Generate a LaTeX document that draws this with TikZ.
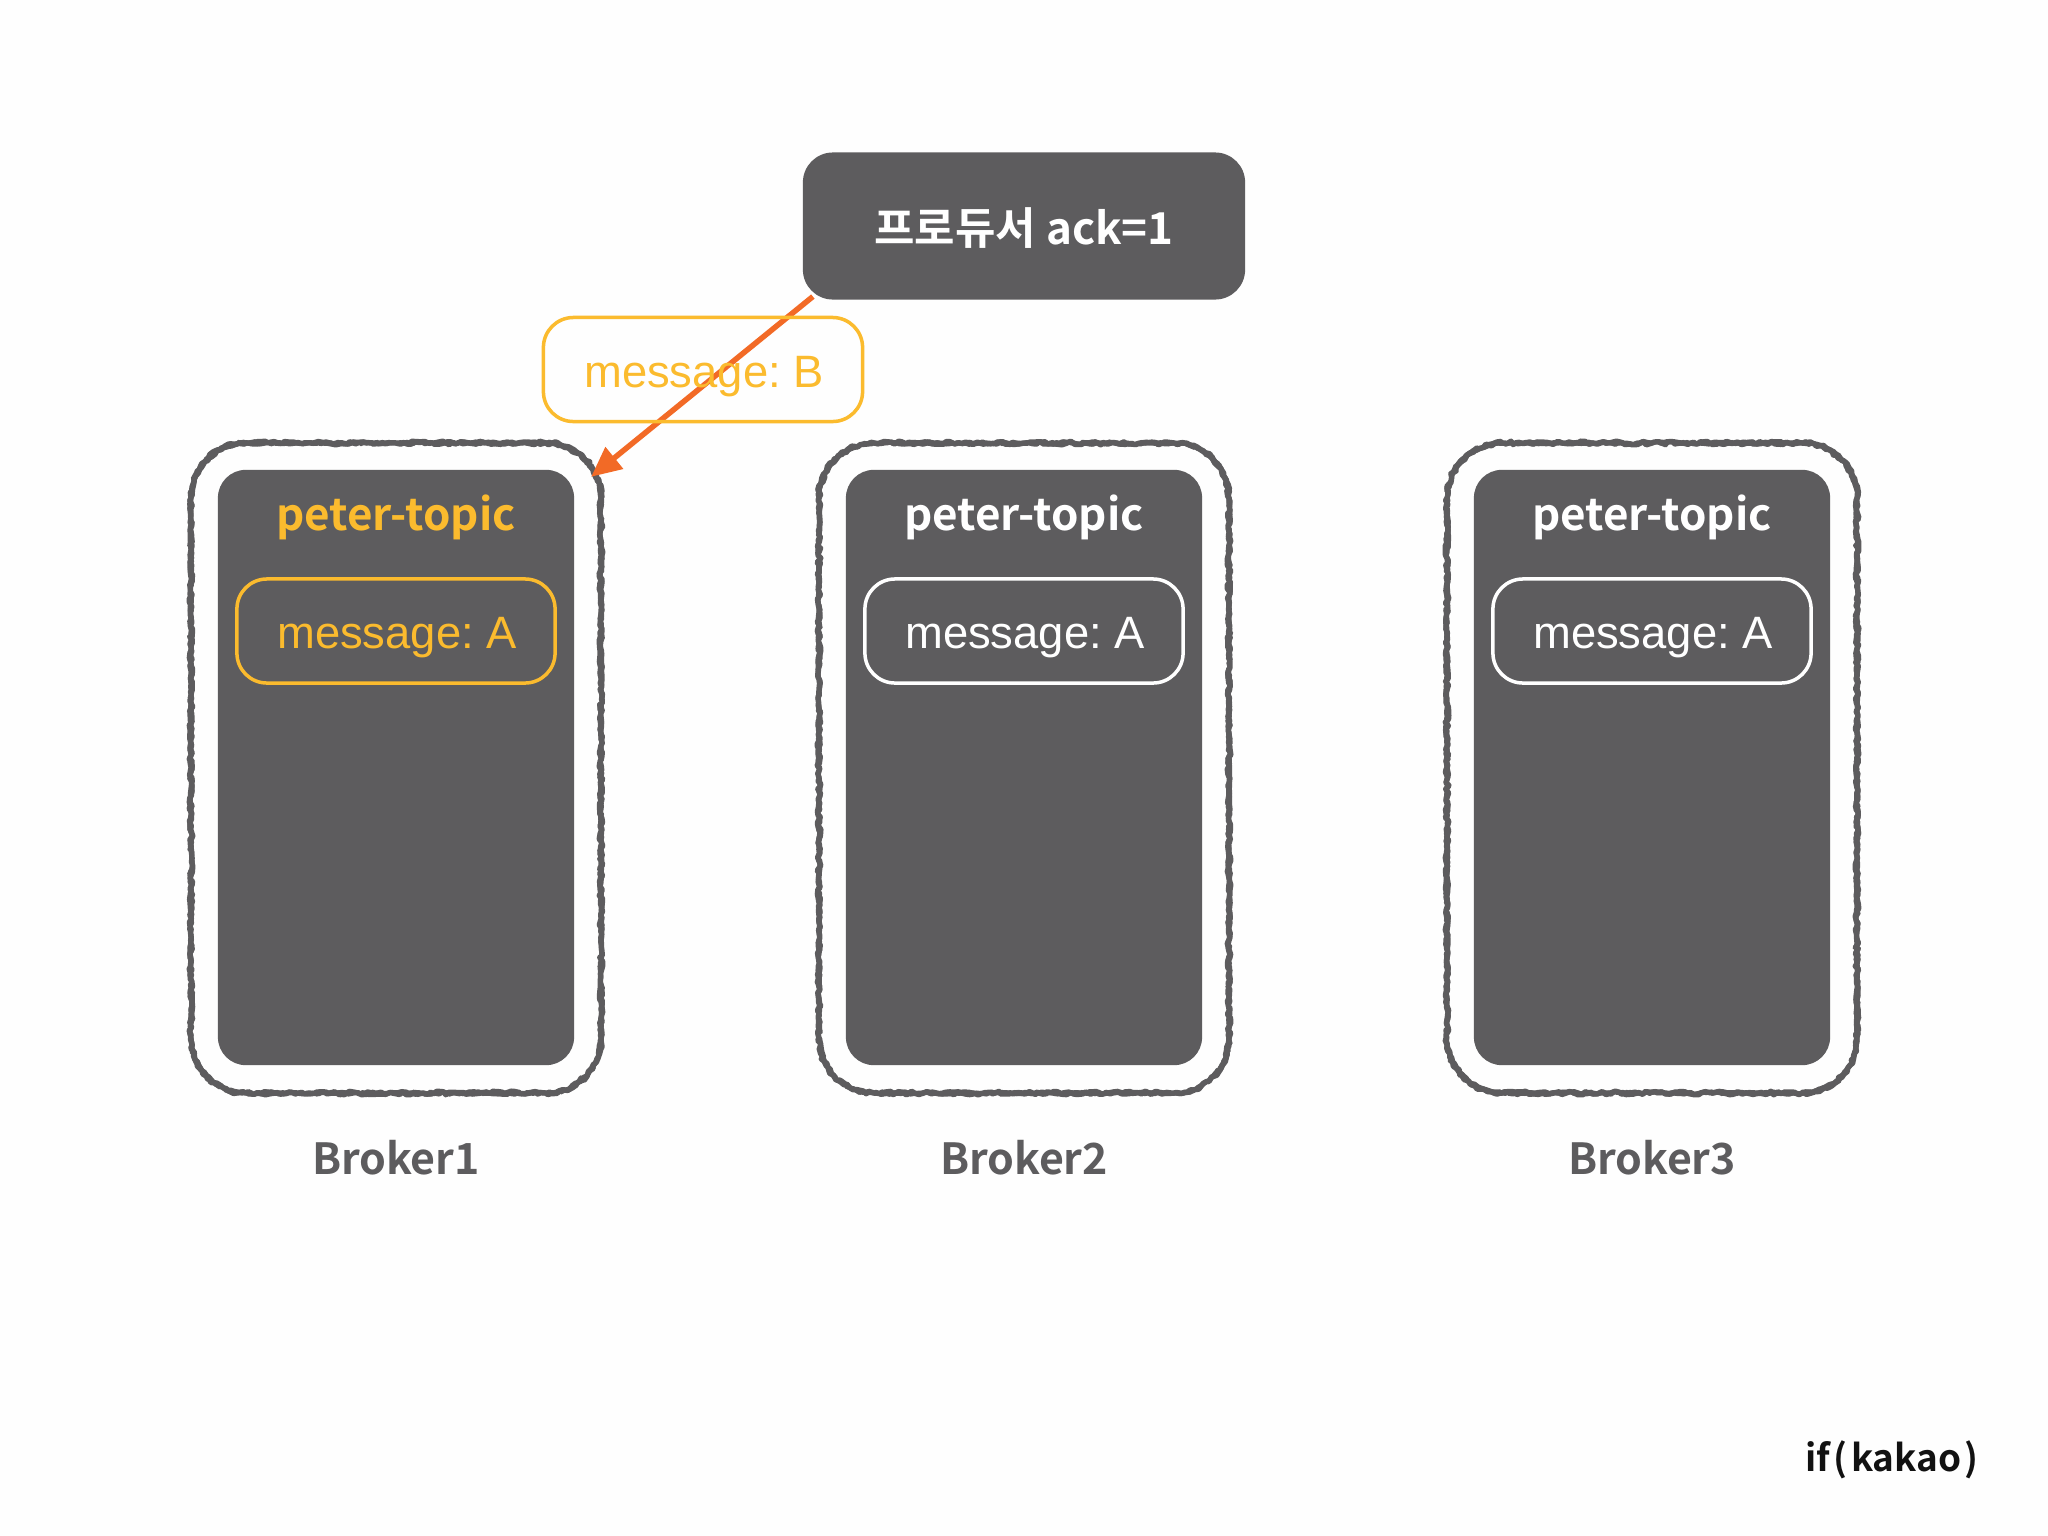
\documentclass[tikz,border=0pt]{standalone}
\usepackage{fontspec}
\usetikzlibrary{calc,arrows.meta,decorations.pathmorphing}
\setmainfont{Liberation Sans}
\newfontfamily\cjkbold{Noto Sans CJK KR Bold}
\frenchspacing
\definecolor{darkbox}{HTML}{5D5C5E}
\definecolor{yellowline}{HTML}{FBBB2E}
\definecolor{orangeline}{HTML}{F26A26}
\definecolor{paper}{HTML}{FEFEFE}
\definecolor{kakaoblack}{HTML}{111111}
\tikzset{
  x=0.01cm,y=-0.01cm,
  allbox/.style={rectangle,inner sep=0pt,outer sep=0pt},
  sketchbox/.style={allbox,minimum width=4.1cm,minimum height=6.5cm},
  roughline/.style={draw=darkbox,line width=#1,line join=round,line cap=round,
    decoration={random steps,segment length=0.04cm,amplitude=0.018cm},decorate},
  darkpanel/.style={allbox,fill=darkbox,minimum width=3.56cm,minimum height=5.95cm,rounded corners=0.28cm},
  msgbox/.style={allbox,draw=#1,line width=0.035cm,minimum width=3.18cm,minimum height=1.04cm,rounded corners=0.3cm},
  msgtext/.style={allbox,text=#1,font=\fontsize{12.9pt}{15pt}\selectfont},
  titletext/.style={allbox,text=#1,font=\cjkbold\fontsize{12.5pt}{16pt}\selectfont},
  brokertext/.style={allbox,text=darkbox,font=\cjkbold\fontsize{12.2pt}{16pt}\selectfont},
  ackarrow/.style={draw=orangeline,line width=0.055cm,-{Triangle[length=0.3cm,width=0.27cm]}},
}
\begin{document}
\begin{tikzpicture}
\useasboundingbox (0,0) rectangle (2048,1536);
\fill[paper] (0,0) rectangle (2048,1536);
\pgfmathsetseed{42}
\node[allbox,fill=darkbox,minimum width=4.42cm,minimum height=1.47cm,rounded corners=0.3cm] (prod) at (1024,226) {};
\node[allbox,text=white,font=\cjkbold\fontsize{12.5pt}{16pt}\selectfont] (prodtext) at (1024,228) {프로듀서 ack=1};
\foreach \i/\cx/\col in {1/396/yellowline,2/1024/white,3/1652/white}{
  \node[sketchbox] (outer\i) at (\cx,768) {};
  \begin{scope}[shift={(outer\i.center)}]
  \foreach \w in {0.055cm,0.045cm,0.04cm,0.03cm}{
    \path[roughline=\w] (0,-325) -- (150,-325) .. controls (180,-325) and (205,-300) .. (205,-270)
      -- (205,270) .. controls (205,300) and (180,325) .. (150,325)
      -- (-150,325) .. controls (-180,325) and (-205,300) .. (-205,270)
      -- (-205,-270) .. controls (-205,-300) and (-180,-325) .. (-150,-325) -- (0,-325);
  }
  \end{scope}
  \node[darkpanel] (panel\i) at (\cx,767.5) {};
  \node[titletext=\col] (title\i) at (\cx,517.5) {peter-topic};
  \node[msgbox=\col] (msg\i) at (\cx,631) {};
  \node[msgtext=\col] (msgtext\i) at (\cx+1,638) {message: A};
  \node[brokertext] (broker\i) at (\cx,1158) {Broker\i};
}
\draw[ackarrow] ($(prod.south west)+(10,-3)$) -- ($(outer1.north east)+(-10,34)$);
\node[msgbox=yellowline,minimum width=3.19cm] (msgb) at (703,369.5) {};
\node[msgtext=yellowline] (msgbtext) at (704,376.5) {message: B};
\node[allbox,text=kakaoblack,font=\cjkbold\fontsize{10.5pt}{13pt}\selectfont] (kakao) at (1892,1460) {if\kern1pt(\kern1pt kakao\kern1pt)};
\end{tikzpicture}
\end{document}
